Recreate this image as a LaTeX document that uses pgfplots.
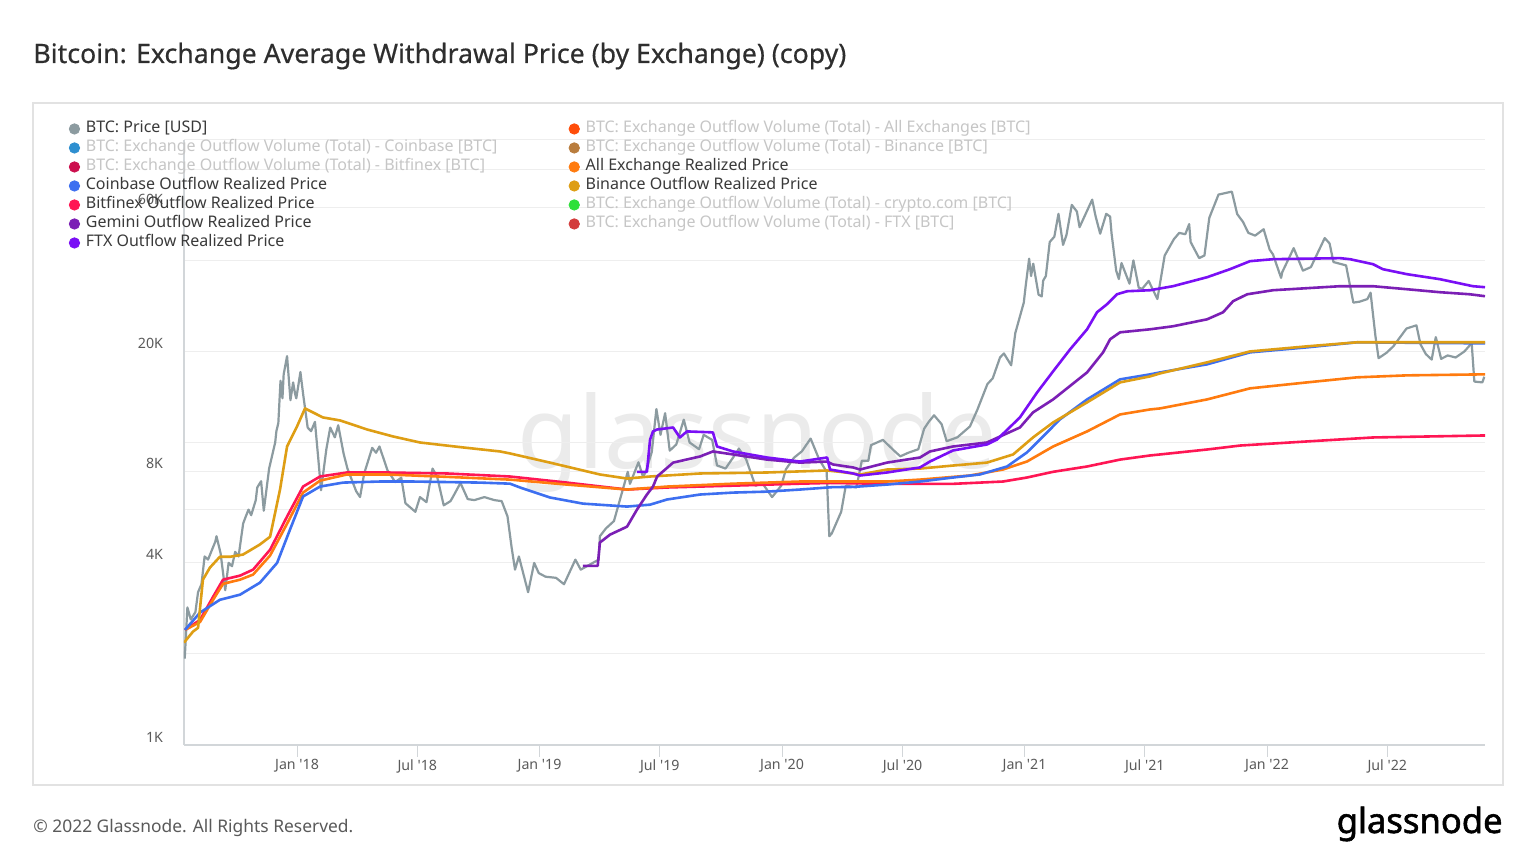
\documentclass[border=0pt]{standalone}
\usepackage{fontspec}
\setmainfont{Noto Sans}
\newfontfamily\titlefont{Noto Sans}[FakeBold=0.45]
\newfontfamily\logofont{Noto Sans}[FakeBold=1.6]
\usepackage{pgfplots}
\pgfplotsset{compat=1.18}
\definecolor{cBTC}{HTML}{8C9BA0}
\definecolor{cCB}{HTML}{3D6FF0}
\definecolor{cBFX}{HTML}{FF1654}
\definecolor{cALL}{HTML}{FF7B0F}
\definecolor{cBIN}{HTML}{DE9E14}
\definecolor{cGEM}{HTML}{7B1FB5}
\definecolor{cFTX}{HTML}{7A0FF5}
\definecolor{vALL}{HTML}{FF4D0A}
\definecolor{vCB}{HTML}{2E8FD0}
\definecolor{vBIN}{HTML}{B97D3E}
\definecolor{vBFX}{HTML}{CC0F4E}
\definecolor{vCRO}{HTML}{2EE03A}
\definecolor{vFTX}{HTML}{D33C3C}
\definecolor{cDark}{HTML}{3A3A3A}
\definecolor{cLight}{HTML}{C6C6C6}
\definecolor{cTitle}{HTML}{2E2E2E}
\definecolor{cTick}{HTML}{5A5A5A}
\definecolor{cGrid}{HTML}{EEEEEE}
\definecolor{cAxis}{HTML}{D2D6D9}
\definecolor{cFrame}{HTML}{E2E2E2}
\definecolor{cWater}{HTML}{EBEBEB}
\begin{document}
\begin{tikzpicture}[x=0.5pt,y=0.5pt]
\path[use as bounding box] (0,0) rectangle (1536,864);
\fill[white] (0,0) rectangle (1536,864);
\node[anchor=base west, inner sep=0pt, text=cTitle, font=\titlefont\fontsize{13.35}{15}\selectfont] at (33,801) {Bitcoin: Exchange Average Withdrawal Price (by Exchange) (copy)};
\draw[cFrame, line width=0.6pt] (33,79) rectangle (1503,761);
\node[text=cWater, font=\fontsize{50}{50}\selectfont] at (757,422) {glassnode};
\begin{axis}[
  at={(92pt,59.5pt)}, anchor=south west, scale only axis,
  width=650.5pt, height=302.5pt,
  xmin=2017.534, xmax=2022.899,
  ymode=log, ymin=1000, ymax=100000,
  axis lines*=left,
  axis line style={cAxis, line width=0.6pt},
  /pgf/number format/assume math mode=true,
  xtick={2018,2018.496,2019,2019.496,2020,2020.497,2021,2021.496,2022,2022.496},
  xticklabels={Jan \textquotesingle18,Jul \textquotesingle18,Jan \textquotesingle19,Jul \textquotesingle19,Jan \textquotesingle20,Jul \textquotesingle20,Jan \textquotesingle21,Jul \textquotesingle21,Jan \textquotesingle22,Jul \textquotesingle22},
  ytick={1000,2000,4000,6000,8000,10000,20000,40000,60000,80000,100000},
  yticklabels={1K,,4K,,8K,,20K,,60K,,},
  yminorticks=false,
  ymajorgrids,
  major grid style={cGrid, line width=0.5pt},
  tick align=outside, major tick length=6pt,
  xtick style={cAxis, line width=0.5pt},
  ytick style={draw=none},
  xticklabel style={font=\fontsize{7.1}{8}\selectfont, text=cTick, yshift=2.3pt},
  yticklabel style={font=\fontsize{7.1}{8}\selectfont, text=cTick, yshift=4pt, xshift=-1pt},
  legend image code/.code={\fill[#1] (0pt,0pt) circle (2.6pt);},
  legend columns=2,
  legend style={at={(-0.0885,1.0298)}, anchor=north west, draw=none, fill=none,
    inner sep=0pt, outer sep=0pt, font=\fontsize{8.0}{8}\selectfont,
    row sep=2.5pt,
    nodes={inner xsep=1.5pt, inner ysep=0pt, text height=5.3pt, text depth=1.7pt},
    /tikz/every odd column/.style={column sep=1.4pt},
    /tikz/every even column/.style={column sep=2pt},
    cells={anchor=west}},
  every axis plot/.append style={line join=round},
]
\addlegendimage{cBTC}
\addlegendentry{\makebox[237.9pt][l]{\textcolor{cDark}{BTC: Price [USD]}}}
\addlegendimage{vALL}
\addlegendentry{\textcolor{cLight}{BTC: Exchange Outflow Volume (Total) - All Exchanges [BTC]}}
\addlegendimage{vCB}
\addlegendentry{\makebox[237.9pt][l]{\textcolor{cLight}{BTC: Exchange Outflow Volume (Total) - Coinbase [BTC]}}}
\addlegendimage{vBIN}
\addlegendentry{\textcolor{cLight}{BTC: Exchange Outflow Volume (Total) - Binance [BTC]}}
\addlegendimage{vBFX}
\addlegendentry{\makebox[237.9pt][l]{\textcolor{cLight}{BTC: Exchange Outflow Volume (Total) - Bitfinex [BTC]}}}
\addlegendimage{cALL}
\addlegendentry{\textcolor{cDark}{All Exchange Realized Price}}
\addlegendimage{cCB}
\addlegendentry{\makebox[237.9pt][l]{\textcolor{cDark}{Coinbase Outflow Realized Price}}}
\addlegendimage{cBIN}
\addlegendentry{\textcolor{cDark}{Binance Outflow Realized Price}}
\addlegendimage{cBFX}
\addlegendentry{\makebox[237.9pt][l]{\textcolor{cDark}{Bitfinex Outflow Realized Price}}}
\addlegendimage{vCRO}
\addlegendentry{\textcolor{cLight}{BTC: Exchange Outflow Volume (Total) - crypto.com [BTC]}}
\addlegendimage{cGEM}
\addlegendentry{\makebox[237.9pt][l]{\textcolor{cDark}{Gemini Outflow Realized Price}}}
\addlegendimage{vFTX}
\addlegendentry{\textcolor{cLight}{BTC: Exchange Outflow Volume (Total) - FTX [BTC]}}
\addlegendimage{cFTX}
\addlegendentry{\makebox[237.9pt][l]{\textcolor{cDark}{FTX Outflow Realized Price}}}

% BTC price
\addplot[cBTC, line width=1.1pt, forget plot] coordinates {
(2017.537,1930)(2017.548,2850)(2017.562,2600)(2017.581,2750)(2017.592,3200)(2017.606,3400)
(2017.619,4200)(2017.633,4100)(2017.663,4700)(2017.668,4900)(2017.685,4300)(2017.704,3250)
(2017.718,4000)(2017.732,3900)(2017.745,4350)(2017.759,4200)(2017.778,5400)(2017.789,5700)
(2017.800,6000)(2017.811,5750)(2017.830,6450)(2017.836,7100)(2017.852,7450)(2017.863,5950)
(2017.885,8200)(2017.910,10000)(2017.915,10900)(2017.923,11600)(2017.932,16000)(2017.940,14000)
(2017.945,16800)(2017.959,19300)(2017.973,13800)(2017.984,15800)(2017.992,14500)(2017.997,14000)
(2018.003,15000)(2018.014,17100)(2018.025,14500)(2018.044,11200)(2018.058,10900)(2018.074,11700)
(2018.088,8800)(2018.099,6950)(2018.121,9500)(2018.137,11200)(2018.156,10400)(2018.170,11400)
(2018.192,9200)(2018.208,8200)(2018.244,6900)(2018.260,6600)(2018.277,7900)(2018.310,9600)
(2018.326,9250)(2018.340,9700)(2018.373,8100)(2018.405,7400)(2018.430,7650)(2018.447,6300)
(2018.488,5900)(2018.507,6600)(2018.534,6350)(2018.559,8200)(2018.578,7700)(2018.605,6200)
(2018.633,6400)(2018.647,6700)(2018.674,7350)(2018.704,6500)(2018.731,6450)(2018.773,6600)
(2018.786,6550)(2018.814,6450)(2018.844,6400)(2018.868,5700)(2018.885,4500)(2018.899,3800)
(2018.915,4200)(2018.953,3200)(2018.978,4000)(2018.997,3700)(2019.025,3600)(2019.068,3570)
(2019.101,3400)(2019.148,4100)(2019.170,3800)(2019.244,4100)(2019.249,4900)(2019.274,5200)
(2019.307,5500)(2019.364,8000)(2019.373,7300)(2019.408,8600)(2019.427,7700)(2019.438,8000)
(2019.463,9300)(2019.482,12900)(2019.499,10600)(2019.518,12500)(2019.537,9400)(2019.564,9850)
(2019.595,11900)(2019.619,10000)(2019.658,9500)(2019.677,10600)(2019.712,10200)(2019.732,8400)
(2019.767,8200)(2019.814,9300)(2019.822,9550)(2019.852,8800)(2019.890,7200)(2019.921,7300)
(2019.959,6600)(2019.997,7200)(2020.016,8150)(2020.049,8900)(2020.082,9350)(2020.118,10300)
(2020.153,8800)(2020.184,8000)(2020.195,4900)(2020.205,5000)(2020.244,5900)(2020.263,7200)
(2020.307,7100)(2020.329,8700)(2020.356,8700)(2020.367,9800)(2020.416,10200)(2020.468,9300)
(2020.488,9000)(2020.521,9250)(2020.562,9500)(2020.586,11100)(2020.605,11700)(2020.627,12300)
(2020.658,11500)(2020.679,10100)(2020.723,10400)(2020.775,11300)(2020.805,12800)(2020.847,15600)
(2020.869,16300)(2020.899,19100)(2020.915,19700)(2020.945,18000)(2020.962,23000)(2020.997,29000)
(2021.005,33000)(2021.019,40500)(2021.027,35500)(2021.036,39000)(2021.058,30800)(2021.071,30400)
(2021.077,34300)(2021.088,35500)(2021.104,46000)(2021.123,47900)(2021.140,57000)(2021.159,45000)
(2021.173,48500)(2021.195,61000)(2021.216,58000)(2021.227,51500)(2021.279,63500)(2021.293,56000)
(2021.312,49000)(2021.337,57000)(2021.353,55800)(2021.359,49000)(2021.378,37000)(2021.389,34700)
(2021.400,39200)(2021.433,33500)(2021.449,40000)(2021.471,32500)(2021.485,32200)(2021.512,34200)
(2021.548,29800)(2021.578,41500)(2021.616,47000)(2021.638,49300)(2021.663,48800)(2021.679,52700)
(2021.685,46000)(2021.720,40700)(2021.742,41500)(2021.762,55300)(2021.800,66000)(2021.855,67500)
(2021.877,56900)(2021.901,53600)(2021.923,49300)(2021.951,48300)(2021.986,50700)(2022.011,43400)
(2022.025,41800)(2022.058,35000)(2022.063,36600)(2022.110,43900)(2022.148,37000)(2022.181,38000)
(2022.238,47400)(2022.258,45500)(2022.274,39500)(2022.326,38500)(2022.356,29000)(2022.381,29200)
(2022.414,29800)(2022.427,31300)(2022.447,22500)(2022.460,19000)(2022.493,19800)(2022.521,20800)
(2022.575,23800)(2022.616,24400)(2022.633,21100)(2022.655,19600)(2022.679,18800)(2022.696,22300)
(2022.718,18900)(2022.745,19400)(2022.778,19100)(2022.814,20000)(2022.844,21300)(2022.855,15900)
(2022.888,15800)(2022.896,16500)};

% Bitfinex realized price
\addplot[cBFX, line width=1.3pt, forget plot] coordinates {
(2017.538,2400)(2017.600,2590)(2017.654,3090)(2017.695,3520)(2017.765,3630)(2017.819,3800)
(2017.889,4420)(2017.959,5690)(2018.025,7150)(2018.095,7720)(2018.206,7960)(2018.371,7960)
(2018.619,7900)(2018.878,7720)(2019.113,7370)(2019.361,6990)(2019.526,7100)(2019.798,7200)
(2020.074,7310)(2020.200,7350)(2020.433,7300)(2020.705,7300)(2020.911,7430)(2021.010,7660)
(2021.118,8000)(2021.258,8330)(2021.394,8780)(2021.518,9060)(2021.559,9130)(2021.753,9480)
(2021.889,9770)(2022.165,10080)(2022.437,10390)(2022.899,10550)};

% All exchange realized price
\addplot[cALL, line width=1.3pt, forget plot] coordinates {
(2017.538,2400)(2017.600,2550)(2017.654,3020)(2017.695,3410)(2017.765,3520)(2017.819,3660)
(2017.889,4230)(2017.959,5390)(2018.025,6830)(2018.095,7480)(2018.206,7840)(2018.371,7840)
(2018.619,7700)(2018.878,7540)(2019.113,7260)(2019.361,6990)(2019.526,7150)(2019.798,7310)
(2020.074,7430)(2020.293,7430)(2020.433,7430)(2020.569,7540)(2020.775,7780)(2020.911,8140)
(2021.010,8650)(2021.118,9700)(2021.258,10880)(2021.394,12380)(2021.518,12860)(2021.559,12960)
(2021.753,13880)(2021.930,15100)(2022.165,15800)(2022.371,16420)(2022.577,16670)(2022.899,16800)};

% Coinbase realized price
\addplot[cCB, line width=1.3pt, forget plot] coordinates {
(2017.538,2400)(2017.600,2740)(2017.682,3020)(2017.765,3140)(2017.847,3440)(2017.918,4000)
(2017.971,5150)(2018.025,6630)(2018.095,7150)(2018.190,7370)(2018.342,7430)(2018.478,7430)
(2018.755,7370)(2018.878,7310)(2018.920,7100)(2019.043,6580)(2019.179,6280)(2019.361,6140)
(2019.456,6230)(2019.526,6480)(2019.662,6730)(2019.798,6830)(2019.938,6880)(2020.074,6990)
(2020.210,7120)(2020.293,7130)(2020.433,7260)(2020.569,7430)(2020.705,7660)(2020.816,7840)
(2020.928,8330)(2021.010,9270)(2021.064,10230)(2021.146,11920)(2021.258,13880)(2021.394,16170)
(2021.518,16800)(2021.559,17050)(2021.753,18130)(2021.930,19860)(2022.165,20630)(2022.371,21440)
(2022.849,21280)(2022.899,21280)};

% Binance realized price
\addplot[cBIN, line width=1.3pt, forget plot] coordinates {
(2017.534,2180)(2017.571,2370)(2017.592,2440)(2017.612,3520)(2017.641,3860)(2017.682,4190)
(2017.724,4190)(2017.777,4260)(2017.847,4600)(2017.889,4880)(2017.930,6990)(2017.959,9700)
(2018.000,11300)(2018.033,12960)(2018.107,12100)(2018.177,11830)(2018.289,11040)(2018.396,10470)
(2018.507,10000)(2018.685,9630)(2018.837,9340)(2018.878,9200)(2019.043,8580)(2019.249,7840)
(2019.361,7600)(2019.456,7720)(2019.662,7900)(2019.938,7960)(2020.186,8080)(2020.239,8000)
(2020.322,7840)(2020.433,8140)(2020.569,8200)(2020.705,8390)(2020.845,8580)(2020.953,9130)
(2021.035,10390)(2021.118,11650)(2021.258,13570)(2021.394,15800)(2021.518,16540)(2021.559,16920)
(2021.753,18410)(2021.930,20000)(2022.165,20790)(2022.371,21440)(2022.899,21440)};

% Gemini realized price
\addplot[cGEM, line width=1.3pt, forget plot] coordinates {
(2019.179,3910)(2019.240,3910)(2019.249,4670)(2019.291,4960)(2019.361,5270)(2019.402,6000)
(2019.443,6730)(2019.468,7150)(2019.485,7720)(2019.551,8580)(2019.662,8990)(2019.715,9340)
(2019.798,9130)(2019.938,8780)(2020.074,8580)(2020.186,8650)(2020.210,8460)(2020.293,8270)
(2020.322,8140)(2020.433,8580)(2020.569,8920)(2020.610,9340)(2020.705,9700)(2020.845,10000)
(2020.981,11210)(2021.035,12570)(2021.118,13880)(2021.258,17050)(2021.324,19860)(2021.353,21940)
(2021.394,23130)(2021.518,23670)(2021.612,24220)(2021.753,25540)(2021.819,26950)(2021.860,29310)
(2021.918,30900)(2022.025,31870)(2022.301,32860)(2022.437,32860)(2022.577,32110)(2022.713,31390)
(2022.837,30900)(2022.899,30450)};

% FTX realized price
\addplot[cFTX, line width=1.3pt, forget plot] coordinates {
(2019.402,8000)(2019.443,8000)(2019.456,10230)(2019.468,10880)(2019.485,11040)(2019.551,11210)
(2019.579,10390)(2019.608,10880)(2019.715,10800)(2019.732,9700)(2019.798,9340)(2019.938,8920)
(2020.074,8650)(2020.186,8920)(2020.198,8140)(2020.293,7900)(2020.322,7780)(2020.433,7960)
(2020.569,8270)(2020.610,8650)(2020.705,9410)(2020.845,9850)(2020.887,10230)(2020.981,12100)
(2021.052,14640)(2021.118,17190)(2021.188,20320)(2021.258,23670)(2021.299,26950)(2021.340,28640)
(2021.381,30900)(2021.423,31620)(2021.518,31870)(2021.612,32860)(2021.753,35190)(2021.847,37400)
(2021.930,39760)(2022.025,40360)(2022.301,40680)(2022.342,40360)(2022.437,38860)(2022.478,37400)
(2022.577,36010)(2022.713,34660)(2022.849,32860)(2022.899,32610)};
\end{axis}
\node[anchor=base west, inner sep=0pt, text=cTick, font=\fontsize{8.7}{10}\selectfont] at (33,32) {\textcopyright{} 2022 Glassnode. All Rights Reserved.};
\node[anchor=base east, inner sep=0pt, text=black, font=\logofont\fontsize{17.3}{19}\selectfont] at (1503,31) {glassnode};
\end{tikzpicture}
\end{document}
